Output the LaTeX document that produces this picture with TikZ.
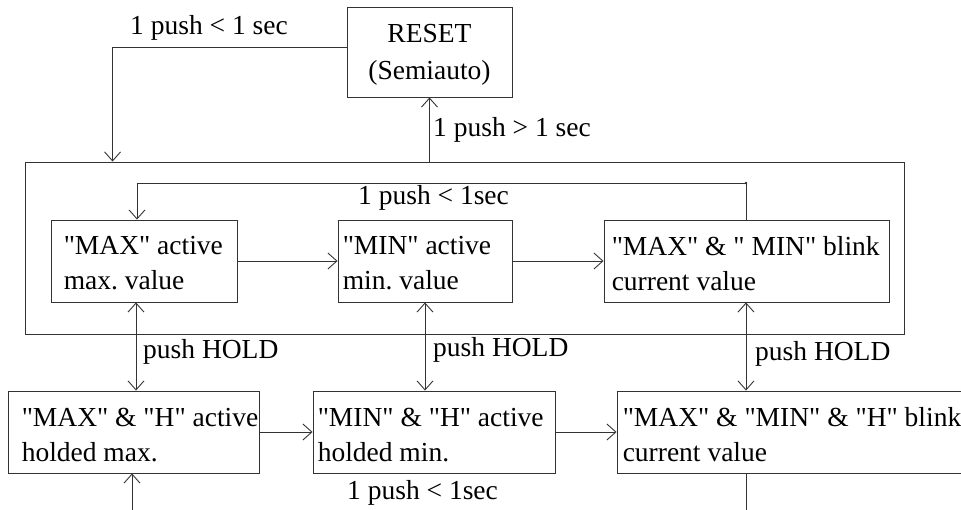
\documentclass[tikz,border=0pt]{standalone}
\usepackage{fontspec}
\newfontfamily\tnr{Liberation Serif}
\usetikzlibrary{arrows.meta,calc}
\newcommand\dfont{\tnr\fontsize{27.5}{35}\selectfont}
\frenchspacing
\begin{document}
\begin{tikzpicture}[x=1pt,y=-1pt,
  font=\dfont,
  line/.style={draw=black!80,line width=0.9pt},
  arr/.style={line,-{Straight Barb[length=9pt,width=16pt]}},
  darr/.style={line,{Straight Barb[length=9pt,width=16pt]}-{Straight Barb[length=9pt,width=16pt]}},
  box/.style={line,inner sep=0pt,minimum height=82pt},
  txt/.style={inner sep=0pt,anchor=west,align=left},
  lbl/.style={inner sep=0pt,anchor=west}]
\clip (0,0) rectangle (961,510);
\fill[white] (0,0) rectangle (961,510);
% boxes
\node[line,inner sep=0pt,minimum width=165pt,minimum height=90pt] (reset) at (429.5,52) {};
\node[inner sep=0pt,align=center] (resett) at ([yshift=-3pt]reset.center) {RESET\\[2pt](Semiauto)};
\node[line,inner sep=0pt,minimum width=879pt,minimum height=172pt] (outer) at (464.5,248) {};
\node[box,minimum width=186pt] (max) at (144,261) {};
\node[box,minimum width=174pt] (min) at (425,261) {};
\node[box,minimum width=285pt] (blink) at (746.5,261) {};
\node[box,minimum width=251pt] (hmax) at (133.5,432) {};
\node[box,minimum width=242pt] (hmin) at (434,432) {};
\node[box,minimum width=383pt] (hblink) at (808.5,432) {};
% box texts
\node[txt] (maxt) at ([xshift=13pt,yshift=-2.5pt]max.west) {"MAX" active\\max. value};
\node[txt] (mint) at ([xshift=5pt,yshift=-2.5pt]min.west) {"MIN" active\\min. value};
\node[txt] (blinkt) at ([xshift=8pt,yshift=-2.5pt]blink.west) {"MAX" \& " MIN" blink\\current value};
\node[txt] (hmaxt) at ([xshift=14pt,yshift=-3pt]hmax.west) {"MAX" \& "H" active\\holded max.};
\node[txt] (hmint) at ([xshift=5pt,yshift=-3pt]hmin.west) {"MIN" \& "H" active\\holded min.};
\node[txt] (hblinkt) at ([xshift=6pt,yshift=-3pt]hblink.west) {"MAX" \& "MIN" \& "H" blink\\current value};
% labels
\node[inner sep=0pt] (l1) at (209,28) {1 push < 1 sec};
\node[lbl] (l2) at (433,130) {1 push > 1 sec};
\node[lbl] (l3) at (358,198) {1 push < 1sec};
\node[lbl] (l4) at (143,352) {push HOLD};
\node[lbl] (l5) at (433,350) {push HOLD};
\node[lbl] (l6) at (755,354) {push HOLD};
\node[lbl] (l7) at (347,493) {1 push < 1sec};
% connectors
\draw[arr] ([yshift=5pt]reset.west) -| ([xshift=88pt]outer.north west);
\draw[arr] (reset.south |- outer.north) -- (reset.south);
\coordinate (fb) at (746,183);
\draw[arr] (blink.north -| fb) -- (fb) -| ([xshift=-7pt]max.north);
\fill[black!80] (fb) circle (1.3pt);
\draw[arr] (max.east) -- (min.west);
\draw[arr] (min.east) -- (blink.west);
\draw[arr] (hmax.east) -- (hmin.west);
\draw[arr] (hmin.east) -- (hblink.west);
\draw[darr] ([xshift=-8pt]max.south) -- ([xshift=-8pt]max.south |- hmax.north);
\draw[darr] (min.south) -- (min.south |- hmin.north);
\draw[darr] (blink.south -| fb) -- (fb |- hblink.north);
\coordinate (b1) at (132,515);
\coordinate (b2) at (746,515);
\draw[arr] (b1) -- (b1 |- hmax.south);
\draw[line] (b2 |- hblink.south) -- (b2);
\end{tikzpicture}
\end{document}
